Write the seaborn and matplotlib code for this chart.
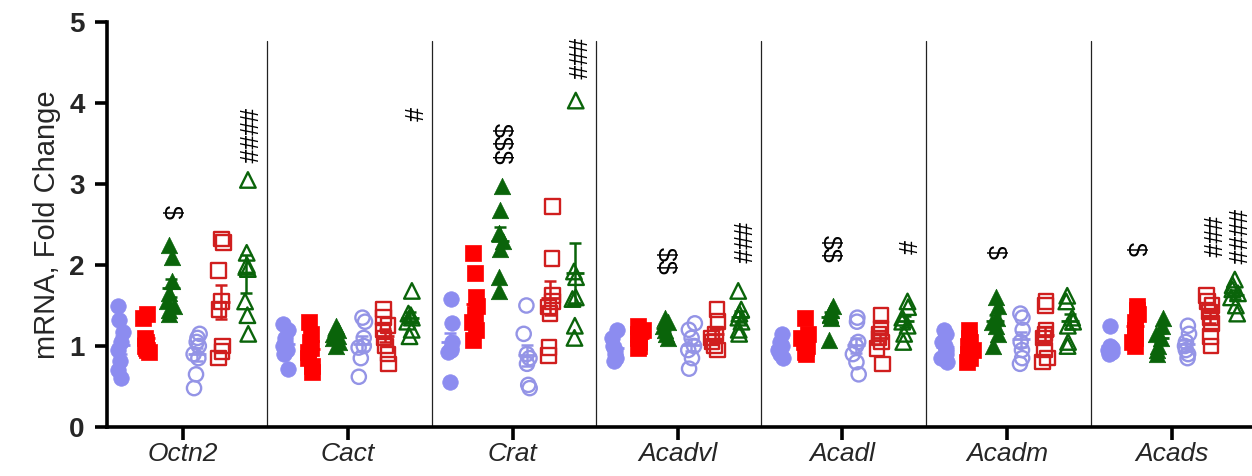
import numpy as np
import pandas as pd
import matplotlib
matplotlib.use("Agg")
import matplotlib.pyplot as plt
import seaborn as sns

# ---- data ----
genes = ["Octn2", "Cact", "Crat", "Acadvl", "Acadl", "Acadm", "Acads"]
groups = ["A1", "A2", "A3", "B1", "B2", "B3"]

octn2 = [
    [1.5, 1.32, 1.17, 1.05, 0.95, 0.82, 0.6, 0.7],
    [1.4, 1.35, 1.1, 1.05, 1.0, 0.98, 0.95, 0.92],
    [2.25, 2.1, 1.8, 1.65, 1.55, 1.5, 1.45, 1.4],
    [1.15, 1.1, 1.05, 1.0, 0.9, 0.85, 0.65, 0.48],
    [2.32, 2.28, 1.93, 1.55, 1.45, 1.0, 0.93, 0.85],
    [3.05, 2.15, 2.0, 1.95, 1.55, 1.38, 1.15],
]
cact = [
    [1.27, 1.2, 1.1, 1.05, 1.0, 0.95, 0.9, 0.72],
    [1.3, 1.15, 1.05, 0.98, 0.92, 0.85, 0.75, 0.68],
    [1.25, 1.2, 1.15, 1.12, 1.1, 1.05, 1.0],
    [1.35, 1.3, 1.1, 1.0, 0.98, 0.85, 0.62],
    [1.45, 1.35, 1.25, 1.2, 1.1, 1.0, 0.9, 0.78],
    [1.68, 1.4, 1.38, 1.35, 1.3, 1.2, 1.12],
]
crat = [
    [1.58, 1.28, 1.05, 0.98, 0.95, 0.92, 0.55],
    [2.15, 1.9, 1.6, 1.5, 1.4, 1.3, 1.2, 1.08],
    [2.98, 2.68, 2.4, 2.3, 2.2, 1.85, 1.68],
    [1.5, 1.15, 0.9, 0.85, 0.78, 0.52, 0.48],
    [2.72, 2.08, 1.62, 1.55, 1.48, 1.4, 0.98, 0.88],
    [4.03, 1.92, 1.85, 1.6, 1.58, 1.25, 1.1],
]
acadvl = [
    [1.2, 1.1, 1.0, 0.95, 0.9, 0.85, 0.82],
    [1.25, 1.2, 1.15, 1.1, 1.05, 1.0, 0.98],
    [1.35, 1.3, 1.25, 1.2, 1.15, 1.1],
    [1.28, 1.2, 1.1, 1.0, 0.95, 0.85, 0.72],
    [1.45, 1.3, 1.15, 1.1, 1.05, 1.0, 0.95],
    [1.68, 1.45, 1.4, 1.35, 1.3, 1.2, 1.15],
]
acadl = [
    [1.15, 1.05, 1.0, 0.98, 0.95, 0.9, 0.85],
    [1.35, 1.15, 1.1, 1.05, 1.0, 0.97, 0.93, 0.9],
    [1.5, 1.45, 1.4, 1.38, 1.35, 1.08],
    [1.35, 1.3, 1.05, 1.0, 0.9, 0.8, 0.65],
    [1.38, 1.22, 1.15, 1.1, 1.05, 0.97, 0.78],
    [1.55, 1.48, 1.35, 1.3, 1.25, 1.15, 1.05],
]
acadm = [
    [1.2, 1.15, 1.05, 1.0, 0.95, 0.9, 0.85, 0.8],
    [1.2, 1.1, 1.05, 1.0, 0.95, 0.9, 0.85, 0.8],
    [1.6, 1.5, 1.35, 1.3, 1.25, 1.15, 1.0],
    [1.4, 1.35, 1.2, 1.05, 0.95, 0.85, 0.78],
    [1.55, 1.5, 1.2, 1.15, 1.1, 0.95, 0.85, 0.8],
    [1.62, 1.55, 1.35, 1.3, 1.25, 1.05, 1.0],
]
acads = [
    [1.25, 1.0, 0.98, 0.95, 0.92, 0.9],
    [1.5, 1.45, 1.4, 1.3, 1.2, 1.1, 1.05, 1.0],
    [1.35, 1.25, 1.15, 1.1, 1.0, 0.95, 0.9],
    [1.25, 1.15, 1.05, 1.0, 0.95, 0.9, 0.85],
    [1.62, 1.55, 1.5, 1.42, 1.35, 1.28, 1.12, 1.0],
    [1.82, 1.75, 1.7, 1.65, 1.6, 1.5, 1.4],
]
gene_values = [octn2, cact, crat, acadvl, acadl, acadm, acads]

# significance marks
sig_genes = ["Octn2", "Octn2", "Cact", "Crat", "Crat", "Acadvl", "Acadvl",
             "Acadl", "Acadl", "Acadm", "Acads", "Acads", "Acads"]
sig_groups = ["A3", "B3", "B3", "A3", "B3", "A3", "B3",
              "A3", "B3", "A3", "A2", "B2", "B3"]
sig_y = [2.65, 3.6, 3.87, 3.5, 4.55, 2.05, 2.27,
         2.2, 2.22, 2.16, 2.2, 2.35, 2.35]
sig_text = ["$", "####", "#", "$$$", "###", "$$", "###",
            "$$", "#", "$", "$", "###", "####"]

# ---- styling ----
GENE_STEP = 6.6
group_offset = dict(zip(groups, [-2.5, -1.5, -0.5, 0.55, 1.5, 2.5]))
group_color = dict(zip(groups, ["#8C8CF0", "#FF0000", "#0A640A",
                                "#9494E6", "#D01E1E", "#0A640A"]))
group_marker = dict(zip(groups, ["o", "s", "^", "o", "s", "^"]))
group_open = dict(zip(groups, [False, False, False, True, True, True]))
group_size = dict(zip(groups, [125, 120, 140, 105, 110, 125]))

rows = []
for gi, gene in enumerate(genes):
    for grp, vals in zip(groups, gene_values[gi]):
        for v in vals:
            rows.append({"gene": gene, "group": grp, "value": v,
                         "pos": gi * GENE_STEP + group_offset[grp]})
df = pd.DataFrame(rows)

rng = np.random.default_rng(3)
df["xj"] = df["pos"] + rng.uniform(-0.14, 0.14, len(df))

sns.set_theme(style="ticks")
plt.rcParams["font.family"] = ["Liberation Sans", "DejaVu Sans"]

fig = plt.figure(figsize=(12.52, 4.76), dpi=100)
ax = fig.add_axes([107 / 1252, 49 / 476, 1145 / 1252, 405 / 476])

for grp in groups:
    sub = df[df["group"] == grp]
    col = group_color[grp]
    if group_open[grp]:
        sns.scatterplot(data=sub, x="xj", y="value", ax=ax, marker=group_marker[grp],
                        s=group_size[grp], facecolor="none", edgecolor=col,
                        linewidth=1.7, zorder=3, legend=False)
    else:
        sns.scatterplot(data=sub, x="xj", y="value", ax=ax, marker=group_marker[grp],
                        s=group_size[grp], color=col, edgecolor=col,
                        linewidth=0.5, zorder=3, legend=False)

    stats = sub.groupby("pos")["value"].agg(["mean", "sem"]).reset_index()
    ax.hlines(stats["mean"], stats["pos"] - 0.36, stats["pos"] + 0.36,
              color=col, lw=2, zorder=4)
    ax.errorbar(stats["pos"], stats["mean"], yerr=stats["sem"], fmt="none",
                ecolor=col, elinewidth=1.8, capsize=4, capthick=1.8, zorder=4)

# separators between genes
for gi in range(len(genes) - 1):
    ax.axvline(gi * GENE_STEP + GENE_STEP / 2 + 0.05, ymin=0, ymax=4.77 / 5,
               color="#222222", lw=0.9, zorder=1)

for g, grp, y, t in zip(sig_genes, sig_groups, sig_y, sig_text):
    x = genes.index(g) * GENE_STEP + group_offset[grp]
    ax.text(x, y, t, rotation=270, ha="center", va="center",
            fontsize=18, color="black", zorder=5, parse_math=False)

ax.set_xlim(-3.05, (len(genes) - 1) * GENE_STEP + 3.2)
ax.set_ylim(0, 5)
ax.set_yticks([0, 1, 2, 3, 4, 5])
ax.set_yticklabels(["0", "1", "2", "3", "4", "5"], fontweight="bold", fontsize=20)
ax.set_xticks([i * GENE_STEP for i in range(len(genes))])
ax.set_xticklabels(genes, fontstyle="italic", fontsize=19)
ax.set_xlabel("")
ax.set_ylabel("mRNA, Fold Change", fontsize=21, labelpad=6)

sns.despine(ax=ax)
for side in ["left", "bottom"]:
    ax.spines[side].set_linewidth(2.6)
    ax.spines[side].set_color("black")
ax.tick_params(axis="both", width=2.6, length=9, color="black")
ax.tick_params(axis="y", pad=7)
ax.tick_params(axis="x", pad=2)

fig.savefig("out.png", dpi=100)
plt.close(fig)
